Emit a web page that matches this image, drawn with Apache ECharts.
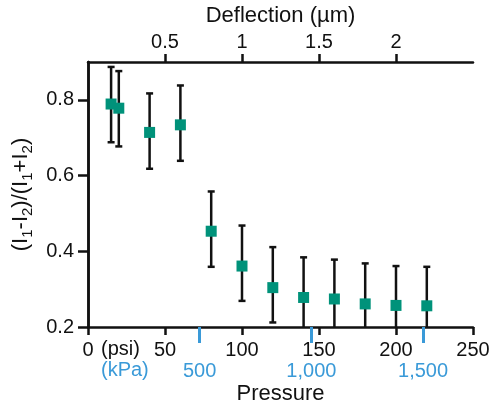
<!DOCTYPE html>
<html>
<head>
<meta charset="utf-8">
<script src="https://cdn.jsdelivr.net/npm/echarts@6/dist/echarts.min.js"></script>
<style>
  html, body { margin: 0; padding: 0; background: #fff; }
  #chart { width: 492px; height: 402px; }
</style>
</head>
<body>
<div id="chart"></div>
<script>
    // pressure in psi, measured ratio and error bar bounds
    var pressurePsi = [15, 20, 40, 60, 80, 100, 120, 140, 160, 180, 200, 220];
    var ratio = [0.789, 0.778, 0.714, 0.734, 0.453, 0.361, 0.304, 0.278, 0.274, 0.261, 0.257, 0.256];
    var errLow = [0.688, 0.677, 0.618, 0.639, 0.359, 0.269, 0.212, 0.172, 0.170, 0.154, 0.153, 0.153];
    var errHigh = [0.887, 0.876, 0.817, 0.838, 0.558, 0.468, 0.411, 0.384, 0.378, 0.368, 0.361, 0.359];

    var psiTicks = [0, 50, 100, 150, 200, 250];
    var yTicks = [0.2, 0.4, 0.6, 0.8];
    var deflectionTicks = [0.5, 1, 1.5, 2];
    var kpaTicks = [500, 1000, 1500];
    var PSI_TO_KPA = 6.894757;
    var PSI_MAX = 250;

    var font = 'Liberation Sans, Arial, Helvetica, sans-serif';
    var black = '#111';
    var teal = '#00927a';
    var blue = '#3a9ad8';

    var chart = echarts.init(document.getElementById('chart'), null, { renderer: 'canvas' });

    var points = pressurePsi.map(function (p, i) { return [p, ratio[i]]; });
    var bars = pressurePsi.map(function (p, i) { return [p, errLow[i], errHigh[i]]; });

    function renderErrorBar(params, api) {
        var x = api.value(0);
        var lo = api.coord([x, api.value(1)]);
        var hi = api.coord([x, api.value(2)]);
        var cap = 3.5;
        var st = { stroke: black, lineWidth: 2.5 };
        return {
            type: 'group',
            children: [
                { type: 'line', shape: { x1: hi[0], y1: hi[1], x2: lo[0], y2: lo[1] }, style: st },
                { type: 'line', shape: { x1: hi[0] - cap, y1: hi[1], x2: hi[0] + cap, y2: hi[1] }, style: st },
                { type: 'line', shape: { x1: lo[0] - cap, y1: lo[1], x2: lo[0] + cap, y2: lo[1] }, style: st }
            ]
        };
    }

    var axisLine = { show: true, lineStyle: { color: black, width: 2.5 } };

    var option = {
        animation: false,
        backgroundColor: '#fff',
        textStyle: { fontFamily: font },
        grid: { left: 88, right: 19, top: 62, bottom: 75, outerBoundsMode: 'none', containLabel: false },
        xAxis: [
            {
                type: 'value', position: 'bottom', min: 0, max: PSI_MAX,
                axisLine: axisLine,
                axisTick: { show: true, length: 8, lineStyle: { color: black, width: 2.5 }, customValues: psiTicks },
                axisLabel: { color: black, fontSize: 20, fontFamily: font, margin: 13, customValues: psiTicks },
                splitLine: { show: false },
                name: 'Pressure', nameLocation: 'middle', nameGap: 56,
                nameTextStyle: { color: black, fontSize: 22, fontFamily: font }
            },
            {
                type: 'value', position: 'top', min: 0, max: PSI_MAX / 100,
                axisLine: axisLine,
                axisTick: { show: true, length: 8, lineStyle: { color: black, width: 2.5 }, customValues: deflectionTicks },
                axisLabel: { color: black, fontSize: 20, fontFamily: font, margin: 10, customValues: deflectionTicks },
                splitLine: { show: false },
                name: 'Deflection (\u00b5m)', nameLocation: 'middle', nameGap: 32,
                nameTextStyle: { color: black, fontSize: 22, fontFamily: font }
            },
            {
                type: 'value', position: 'bottom', offset: 0, min: 0, max: PSI_MAX * PSI_TO_KPA,
                axisLine: { show: false },
                axisTick: { show: true, length: 16, lineStyle: { color: blue, width: 3 }, customValues: kpaTicks },
                axisLabel: {
                    color: blue, fontSize: 20, fontFamily: font, margin: 34, customValues: kpaTicks,
                    formatter: function (v) { return v.toLocaleString('en-US'); }
                },
                splitLine: { show: false }
            }
        ],
        yAxis: [
            {
                type: 'value', position: 'left', min: 0.2, max: 0.9,
                axisLine: axisLine,
                axisTick: { show: true, length: 10, lineStyle: { color: black, width: 2.5 }, customValues: yTicks },
                axisLabel: {
                    color: black, fontSize: 20, fontFamily: font, margin: 14, customValues: yTicks,
                    formatter: function (v) { return v.toFixed(1); }
                },
                splitLine: { show: false },
                name: '{m|(I}{s|1}{m|-I}{s|2}{m|)/(I}{s|1}{m|+I}{s|2}{m|)}',
                nameLocation: 'middle', nameRotate: 90, nameGap: 52,
                nameTextStyle: {
                    color: black, fontFamily: font,
                    rich: {
                        m: { fontSize: 22, lineHeight: 28, color: black, fontFamily: font },
                        s: { fontSize: 15, lineHeight: 15, color: black, fontFamily: font, verticalAlign: 'bottom' }
                    }
                }
            },
            {
                type: 'value', position: 'right', min: 0.2, max: 0.9,
                axisLine: axisLine,
                axisTick: { show: false },
                axisLabel: { show: false },
                splitLine: { show: false }
            }
        ],
        graphic: [
            { type: 'text', left: 101, top: 339, style: { text: '(psi)', fill: black, font: '20px ' + font } },
            { type: 'text', left: 101, top: 360, style: { text: '(kPa)', fill: blue, font: '20px ' + font } }
        ],
        series: [
            {
                type: 'custom',
                xAxisIndex: 0, yAxisIndex: 0,
                renderItem: renderErrorBar,
                encode: { x: 0, y: [1, 2] },
                data: bars,
                clip: true,
                z: 2
            },
            {
                type: 'scatter',
                xAxisIndex: 0, yAxisIndex: 0,
                symbol: 'rect', symbolSize: 11,
                itemStyle: { color: teal, opacity: 1 },
                data: points,
                z: 3
            }
        ]
    };

    chart.setOption(option);
</script>
</body>
</html>
